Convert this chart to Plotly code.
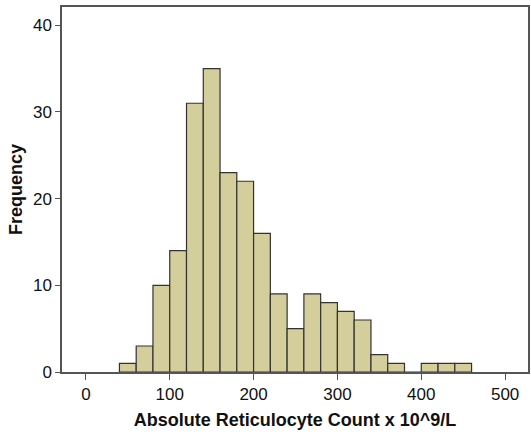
import plotly.graph_objects as go

bin_starts = [40, 60, 80, 100, 120, 140, 160, 180, 200, 220, 240, 260, 280, 300, 320, 340, 360, 380, 400, 420, 440]
counts = [1, 3, 10, 14, 31, 35, 23, 22, 16, 9, 5, 9, 8, 7, 6, 2, 1, 0, 1, 1, 1]
bin_width = 20
x_ticks = [0, 100, 200, 300, 400, 500]
y_ticks = [0, 10, 20, 30, 40]

centers = [s + bin_width / 2 for s in bin_starts]

fig = go.Figure()
fig.add_trace(go.Bar(
    x=centers, y=counts, width=bin_width,
    marker=dict(color="#d3ce9b", line=dict(color="#333333", width=1.2)),
))

font = "Liberation Sans, Arial, sans-serif"
fig.update_layout(
    width=531, height=437,
    margin=dict(l=62, r=1, t=7, b=65),
    plot_bgcolor="white", paper_bgcolor="white",
    showlegend=False,
    font=dict(family=font, size=17, color="#111111"),
    xaxis=dict(
        range=[-28.5, 527.3], tickvals=x_ticks, ticks="outside", ticklen=6,
        tickcolor="#555555", showgrid=False, zeroline=False,
        showline=True, linecolor="#555555", linewidth=1.5, mirror=True,
        tickfont=dict(size=17),
        title=dict(text="<b>Absolute Reticulocyte Count x 10^9/L</b>", font=dict(size=18), standoff=10),
    ),
    yaxis=dict(
        range=[0, 42.1], tickvals=y_ticks, ticks="outside", ticklen=5,
        tickcolor="#555555", showgrid=False, zeroline=False,
        showline=True, linecolor="#555555", linewidth=1.5, mirror=True,
        tickfont=dict(size=17),
        title=dict(text="<b>Frequency</b>", font=dict(size=18), standoff=6),
    ),
)
fig.write_html("out.html")
